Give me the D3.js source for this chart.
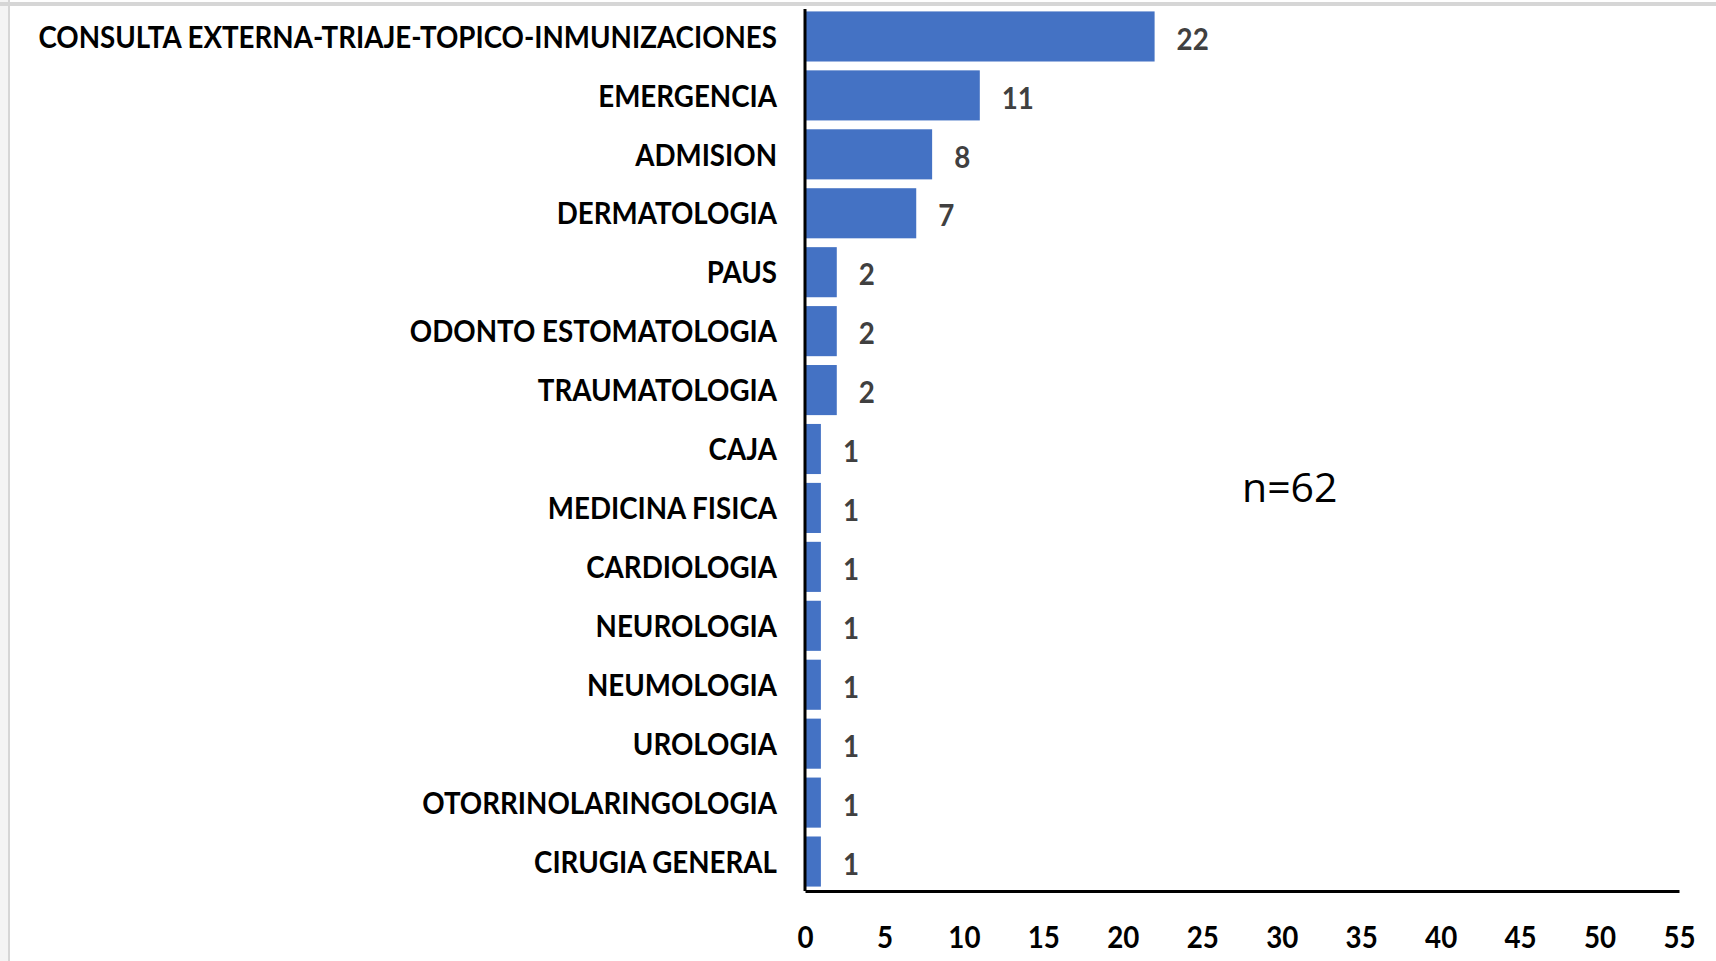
<!DOCTYPE html>
<html lang="es">
<head>
    <meta charset="utf-8">
    <title>Servicios - n=62</title>
    <script src="https://d3js.org/d3.v7.min.js"></script>
    <style>
        html, body { margin: 0; padding: 0; background: #fff; }
        svg { display: block; }
    </style>
</head>
<body>
    <div id="chart"></div>

    <script>
        // Categories and values
        var categories = [
            "CONSULTA EXTERNA-TRIAJE-TOPICO-INMUNIZACIONES",
            "EMERGENCIA",
            "ADMISION",
            "DERMATOLOGIA",
            "PAUS",
            "ODONTO ESTOMATOLOGIA",
            "TRAUMATOLOGIA",
            "CAJA",
            "MEDICINA FISICA",
            "CARDIOLOGIA",
            "NEUROLOGIA",
            "NEUMOLOGIA",
            "UROLOGIA",
            "OTORRINOLARINGOLOGIA",
            "CIRUGIA GENERAL"
        ];
        var values = [22, 11, 8, 7, 2, 2, 2, 1, 1, 1, 1, 1, 1, 1, 1];
        var xTicks = [0, 5, 10, 15, 20, 25, 30, 35, 40, 45, 50, 55];
        var note = "n=62";

        var data = categories.map(function(c, i) { return { name: c, value: values[i] }; });

        var width = 1716, height = 961;
        var labelFont = "Lato, 'Open Sans', 'Liberation Sans', sans-serif";
        var labelSize = "31px";
        var longestLabelWidth = 739; // width of the first label in the reference

        var svg = d3.select("#chart").append("svg")
            .attr("width", width)
            .attr("height", height);

        // Frame edges (gray lines at top and left of the screenshot)
        svg.append("rect").attr("x", 0).attr("y", 0).attr("width", 9).attr("height", height).attr("fill", "#f4f4f4");
        svg.append("line")
            .attr("x1", 0).attr("x2", width).attr("y1", 4).attr("y2", 4)
            .attr("stroke", "#d6d6d6").attr("stroke-width", 4);
        svg.append("line")
            .attr("x1", 9).attr("x2", 9).attr("y1", 0).attr("y2", height)
            .attr("stroke", "#d6d6d6").attr("stroke-width", 2);

        // Scales
        var x = d3.scaleLinear()
            .domain([0, 55])
            .range([805, 1679]);

        var y = d3.scaleBand()
            .domain(categories)
            .range([7, 891])
            .paddingInner(0.15)
            .paddingOuter(0.075);

        // Bars
        svg.selectAll("rect.bar")
            .data(data)
            .enter()
            .append("rect")
            .attr("class", "bar")
            .attr("x", x(0))
            .attr("y", function(d) { return y(d.name); })
            .attr("width", function(d) { return x(d.value) - x(0); })
            .attr("height", y.bandwidth())
            .attr("fill", "#4472C4");

        // Category axis
        var yAxis = svg.append("g")
            .attr("transform", "translate(" + x(0) + ",0)")
            .call(d3.axisLeft(y).tickSize(0).tickPadding(28));
        yAxis.select(".domain")
            .attr("stroke", "#000")
            .attr("stroke-width", 3)
            .attr("d", "M0,9V891");
        var yLabels = yAxis.selectAll("text")
            .style("font-family", labelFont)
            .style("font-weight", "bold")
            .style("font-size", labelSize)
            .style("fill", "#000")
            .attr("dy", "0.36em");

        // The reference uses a narrow bold face: squeeze horizontally to match
        var measured = yLabels.filter(function(d) { return d === categories[0]; }).node().getComputedTextLength();
        var k = Math.min(1, longestLabelWidth / measured);
        yLabels
            .attr("x", null)
            .attr("transform", "translate(-28,0) scale(" + k + ",1)");

        // Value labels
        svg.selectAll("text.value")
            .data(data)
            .enter()
            .append("text")
            .attr("class", "value")
            .attr("transform", function(d) {
                return "translate(" + (x(d.value) + 22) + "," + (y(d.name) + y.bandwidth() / 2 + 2) + ") scale(" + k + ",1)";
            })
            .attr("dy", "0.36em")
            .style("font-family", labelFont)
            .style("font-weight", "bold")
            .style("font-size", labelSize)
            .style("fill", "#404040")
            .text(function(d) { return d.value; });

        // Value axis
        var xAxis = svg.append("g")
            .attr("transform", "translate(0,891)")
            .call(d3.axisBottom(x).tickValues(xTicks).tickSize(0).tickSizeOuter(0).tickPadding(36));
        xAxis.select(".domain")
            .attr("stroke", "#000")
            .attr("stroke-width", 3);
        xAxis.selectAll("text")
            .style("font-family", labelFont)
            .style("font-weight", "bold")
            .style("font-size", labelSize)
            .style("fill", "#000")
            .attr("y", null)
            .attr("transform", "translate(0,35) scale(" + k + ",1)");

        // Annotation
        svg.append("text")
            .attr("x", 1242)
            .attr("y", 502)
            .style("font-family", "'Open Sans', 'Liberation Sans', sans-serif")
            .style("font-size", "41px")
            .style("fill", "#000")
            .text(note);
    </script>
</body>
</html>
